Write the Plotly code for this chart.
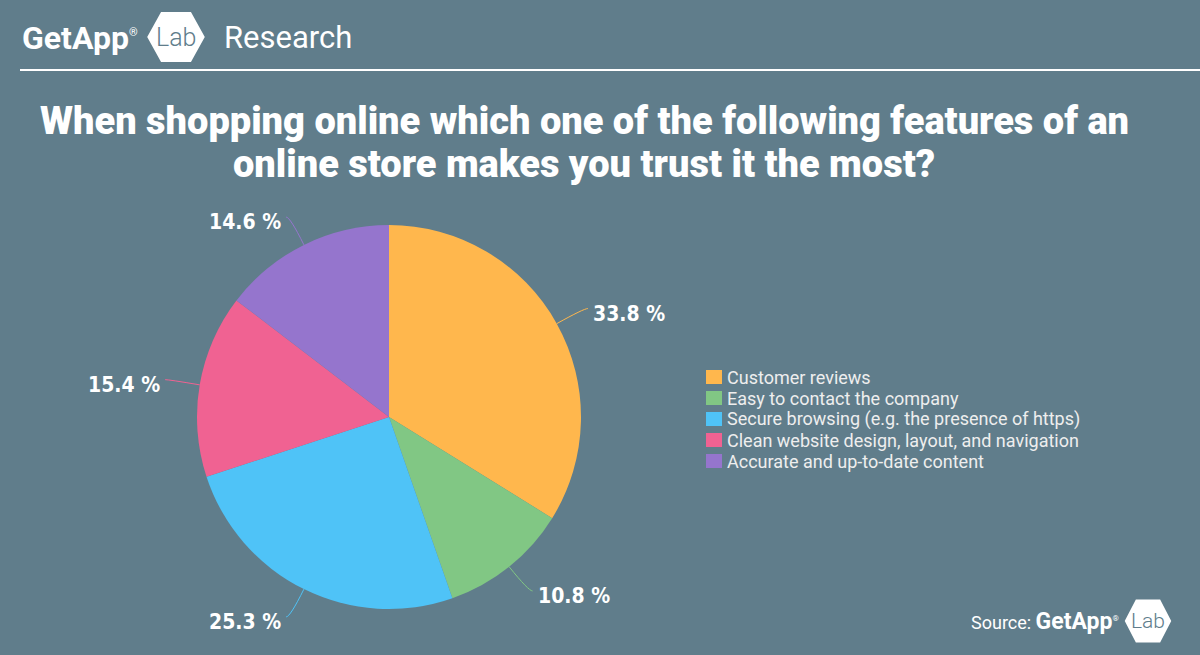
import math
import plotly.graph_objects as go

categories = [
    "Customer reviews",
    "Easy to contact the company",
    "Secure browsing (e.g. the presence of https)",
    "Clean website design, layout, and navigation",
    "Accurate and up-to-date content",
]
values = [33.8, 10.8, 25.3, 15.4, 14.6]
colors = ["#FFB74D", "#81C784", "#4FC3F7", "#F06292", "#9575CD"]
title_lines = [
    "When shopping online which one of the following features of an",
    "online store makes you trust it the most?",
]

W, H = 1200, 655
BG = "#607D8B"

# pie geometry in pixels
CX, CY, R = 389, 417, 192

def px(x):
    return x / W

def py(y):
    return 1 - y / H

fig = go.Figure()
fig.add_trace(go.Pie(
    labels=categories,
    values=values,
    marker=dict(colors=colors, line=dict(width=0)),
    sort=False,
    direction="clockwise",
    rotation=0,
    textinfo="none",
    hoverinfo="label+percent",
    domain=dict(x=[px(CX - R), px(CX + R)], y=[py(CY + R), py(CY - R)]),
    showlegend=False,
))

annotations = []
shapes = []

LABEL_FONT = dict(family="DejaVu Sans Condensed, DejaVu Sans", size=21, color="white",
                  weight="bold")

# outside labels with connectors, computed from the data
total = sum(values)
cum = 0.0
for v, c in zip(values, colors):
    mid = (cum + v / 2) / total * 2 * math.pi
    cum += v
    s, co = math.sin(mid), math.cos(mid)
    x0, y0 = CX + R * s, CY - R * co
    xe, ye = CX + (R + 31) * s, CY - (R + 31) * co
    right = s >= 0
    x2 = xe + (4 if right else -4)
    y2 = ye
    lx = x2 + (3 if right else -3)
    path = "M{},{} Q{},{} {},{}".format(px(x0), py(y0), px(xe), py(ye), px(x2), py(y2))
    shapes.append(dict(type="path", path=path, xref="paper", yref="paper",
                       line=dict(color=c, width=1)))
    annotations.append(dict(
        x=px(lx), y=py(y2 + 5), xref="paper", yref="paper",
        text="<span style='font-stretch:condensed'>{:.1f} %</span>".format(v), showarrow=False,
        xanchor="left" if right else "right", yanchor="middle",
        font=LABEL_FONT,
    ))

# custom legend built from the category list
LEG_X, LEG_Y0, LEG_DY = 706, 377, 21
for i, (cat, c) in enumerate(zip(categories, colors)):
    yc = LEG_Y0 + i * LEG_DY
    shapes.append(dict(type="rect", xref="paper", yref="paper",
                       x0=px(LEG_X), x1=px(LEG_X + 16), y0=py(yc - 7), y1=py(yc + 7),
                       fillcolor=c, line=dict(width=0)))
    annotations.append(dict(
        x=px(LEG_X + 19), y=py(yc), xref="paper", yref="paper",
        xanchor="left", yanchor="middle", text=cat, showarrow=False,
        font=dict(family="Roboto", size=18, color="#EEEEEE"),
    ))

# header
def hexagon(xc, yc, w, h):
    hw, hh = w / 2, h / 2
    q = w * 0.24
    pts = [(xc - hw, yc), (xc - hw + q, yc - hh), (xc + hw - q, yc - hh),
           (xc + hw, yc), (xc + hw - q, yc + hh), (xc - hw + q, yc + hh)]
    d = "M" + " L".join("{},{}".format(px(a), py(b)) for a, b in pts) + " Z"
    return dict(type="path", path=d, xref="paper", yref="paper",
                fillcolor="white", line=dict(color="white", width=4), layer="below")

shapes.append(hexagon(176, 37, 53, 46))
shapes.append(hexagon(1148, 621, 42, 39))
shapes.append(dict(type="line", xref="paper", yref="paper",
                   x0=px(20), x1=1, y0=py(70), y1=py(70),
                   line=dict(color="white", width=2)))

for i, line in enumerate(title_lines):
    annotations.append(dict(
        x=px(584), y=py(121 + 43 * i), xref="paper", yref="paper",
        xanchor="center", yanchor="middle", text=line, showarrow=False,
        font=dict(family="Roboto", size=38, color="white", weight=900)))

annotations += [
    dict(x=px(20), y=py(38), xref="paper", yref="paper", xanchor="left", yanchor="middle",
         text="<b>GetApp</b><sup><span style='font-size:11px'>®</span></sup>", showarrow=False,
         font=dict(family="Roboto", size=32, color="white")),
    dict(x=px(176), y=py(37), xref="paper", yref="paper", xanchor="center", yanchor="middle",
         text="Lab", showarrow=False,
         font=dict(family="Roboto", size=25, color=BG, weight=300)),
    dict(x=px(222), y=py(38), xref="paper", yref="paper", xanchor="left", yanchor="middle",
         text="Research", showarrow=False,
         font=dict(family="Roboto", size=31, color="white")),
    dict(x=px(1121), y=py(621), xref="paper", yref="paper", xanchor="right", yanchor="middle",
         text="Source: <b><span style='font-size:23px'>GetApp</span></b><sup><span style='font-size:8px'>®</span></sup>",
         showarrow=False,
         font=dict(family="Roboto", size=18, color="white")),
    dict(x=px(1148), y=py(621), xref="paper", yref="paper", xanchor="center", yanchor="middle",
         text="Lab", showarrow=False,
         font=dict(family="Roboto", size=21, color=BG, weight=300)),
]

fig.update_layout(
    width=W, height=H,
    margin=dict(l=0, r=0, t=0, b=0),
    paper_bgcolor=BG, plot_bgcolor=BG,
    shapes=shapes,
    annotations=annotations,
    showlegend=False,
)

fig.write_html("out.html")
